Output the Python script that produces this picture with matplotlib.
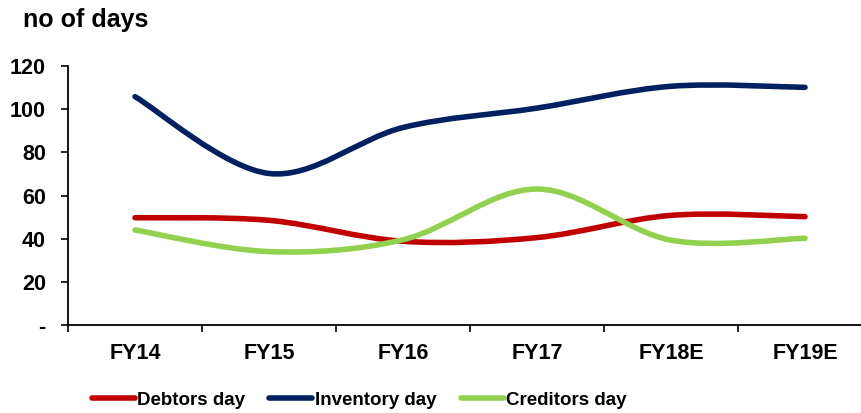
import numpy as np
import matplotlib.pyplot as plt
from matplotlib.path import Path
from matplotlib.patches import PathPatch
from matplotlib.lines import Line2D

years = ["FY14", "FY15", "FY16", "FY17", "FY18E", "FY19E"]
debtors = [49.7, 48.5, 38.8, 40.5, 50.8, 50.2]
inventory = [105.8, 70.2, 91.5, 100.5, 110.6, 110.1]
creditors = [44.0, 34.0, 39.5, 63.0, 39.3, 40.2]

plt.rcParams["font.family"] = ["Liberation Sans", "DejaVu Sans"]
plt.rcParams["font.weight"] = "bold"


def smooth_path(xs, ys):
    """Catmull-Rom style bezier through the points (like Excel's smoothed lines)."""
    pts = np.column_stack([xs, ys]).astype(float)
    n = len(pts)
    verts = [pts[0]]
    codes = [Path.MOVETO]
    for i in range(n - 1):
        p0 = pts[max(i - 1, 0)]
        p1 = pts[i]
        p2 = pts[i + 1]
        p3 = pts[min(i + 2, n - 1)]
        c1 = p1 + (p2 - p0) / 6.0
        c2 = p2 - (p3 - p1) / 6.0
        verts += [c1, c2, p2]
        codes += [Path.CURVE4] * 3
    return Path(verts, codes)


fig = plt.figure(figsize=(8.62, 4.13), dpi=100)
ax = fig.add_axes([68 / 862, 1 - 325 / 413, 804 / 862, 259 / 413])

x = np.arange(len(years))
series = [("Debtors day", debtors, "#C00000"),
          ("Inventory day", inventory, "#002060"),
          ("Creditors day", creditors, "#92D050")]
for name, vals, col in series:
    ax.add_patch(PathPatch(smooth_path(x, vals), facecolor="none", edgecolor=col,
                           lw=4.0, capstyle="round", joinstyle="round"))

ax.set_xlim(-0.5, len(years) - 0.5)
ax.set_ylim(0, 120)
ax.set_yticks(range(0, 121, 20))
ax.set_yticklabels(["-"] + [str(v) for v in range(20, 121, 20)])
ax.set_xticks(x)
ax.set_xticklabels(years)
ax.set_xticks(np.arange(len(years)) - 0.5, minor=True)
ax.tick_params(axis="x", which="major", length=0, pad=13, labelsize=15.5)
ax.tick_params(axis="x", which="minor", length=5, width=1.2, direction="out")
ax.tick_params(axis="y", length=5, width=1.2, pad=11, labelsize=15.5)
for lab in ax.get_xticklabels() + ax.get_yticklabels():
    lab.set_fontweight("bold")

for side in ["top", "right"]:
    ax.spines[side].set_visible(False)
for side in ["left", "bottom"]:
    ax.spines[side].set_linewidth(1.3)

fig.text(23 / 862, 1 - 27 / 413, "no of days", fontsize=18, fontweight="bold",
         va="baseline", ha="left")

handles = [Line2D([], [], color=col, lw=4.0, solid_capstyle="round")
           for _, _, col in series]
fig.legend(handles, [s[0] for s in series], loc="center",
           bbox_to_anchor=(359 / 862, 1 - 400 / 413), ncol=3, frameon=False,
           handlelength=2.3, handletextpad=0.12, columnspacing=1.3,
           prop={"weight": "bold", "size": 13.5})

fig.savefig("out.png", dpi=100)
